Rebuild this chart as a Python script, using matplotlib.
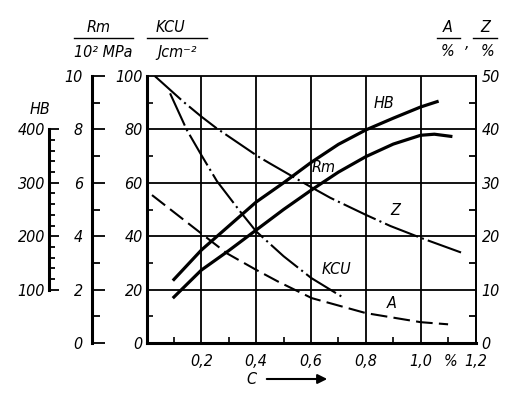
import matplotlib
matplotlib.use("Agg")
import matplotlib.pyplot as plt
from matplotlib.lines import Line2D
from matplotlib.ticker import FixedLocator
from matplotlib import font_manager

plt.rcParams['font.family'] = ['Liberation Sans Narrow', 'DejaVu Sans']
plt.rcParams['font.style'] = 'italic'
plt.rcParams['font.stretch'] = 'condensed'
plt.rcParams['font.size'] = 11.5
print(sorted({f.name + ' ' + str(f.stretch) for f in font_manager.fontManager.ttflist
              if 'DejaVu' in f.name or 'Liberation' in f.name}))

# carbon content C, %
c_hb = [0.1, 0.2, 0.3, 0.4, 0.5, 0.6, 0.7, 0.8, 0.9, 1.0, 1.06]
hb = [119, 174, 219, 264, 300, 338, 372, 399, 421, 442, 452]

c_rm = [0.1, 0.2, 0.3, 0.4, 0.5, 0.6, 0.7, 0.8, 0.9, 1.0, 1.05, 1.11]
rm = [1.72, 2.73, 3.46, 4.23, 5.0, 5.72, 6.4, 6.98, 7.45, 7.78, 7.82, 7.74]

c_kcu = [0.086, 0.147, 0.2, 0.257, 0.342, 0.4, 0.5, 0.6, 0.713]
kcu = [93.5, 79.8, 70.4, 60.6, 49.2, 41.8, 32.5, 24.4, 17.3]

c_z = [0.03, 0.134, 0.2, 0.256, 0.408, 0.451, 0.6, 0.67, 0.8, 0.89, 1.0, 1.15]
z = [50, 45.2, 42.4, 40.2, 34.9, 33.6, 29.2, 27.2, 24.0, 21.9, 19.7, 16.9]

c_a = [0.02, 0.2, 0.293, 0.4, 0.48, 0.603, 0.8, 1.0, 1.1]
a = [27.7, 20.5, 16.8, 13.7, 11.5, 8.4, 5.6, 3.9, 3.5]

x_major = [0.2, 0.4, 0.6, 0.8, 1.0, 1.2]
x_labels = ['0,2', '0,4', '0,6', '0,8', '1,0', '1,2']

W, H = 522, 394
fig = plt.figure(figsize=(W / 100, H / 100), dpi=100)
x0, x1, y0, y1 = 146.5, 475.5, 76, 343
ax = fig.add_axes([x0 / W, 1 - y1 / H, (x1 - x0) / W, (y1 - y0) / H])


def fx(px):
    return px / W


def fy(py):
    return 1 - py / H


# main axes: KCU on the left spine
ax.set_xlim(0, 1.2)
ax.set_ylim(0, 100)
ax.xaxis.set_major_locator(FixedLocator(x_major))
ax.set_xticklabels(x_labels)
ax.xaxis.set_minor_locator(FixedLocator([0.1, 0.3, 0.5, 0.7, 0.9, 1.1]))
ax.yaxis.set_major_locator(FixedLocator([0, 20, 40, 60, 80, 100]))
ax.yaxis.set_minor_locator(FixedLocator([10, 30, 50, 70, 90]))
ax.tick_params(axis='x', which='major', length=0, pad=8)
ax.tick_params(axis='y', which='major', length=0, pad=2.7)
ax.tick_params(which='minor', direction='in', length=4.5, width=1.2)
for v in [0.2, 0.4, 0.6, 0.8, 1.0]:
    ax.axvline(v, color='black', lw=1.3, zorder=1)
for v in [20, 40, 60, 80]:
    ax.axhline(v, color='black', lw=1.3, zorder=1)
ax.spines['left'].set_linewidth(2.2)
ax.spines['bottom'].set_linewidth(2.2)
ax.spines['top'].set_linewidth(1.3)
ax.spines['right'].set_linewidth(1.3)

ax.plot(c_kcu, kcu, color='black', lw=1.5, ls=(0, (17, 2, 1, 2)), zorder=3)

# Rm axis
ax_rm = ax.twinx()
ax_rm.set_ylim(0, 10)
for s in ['right', 'top', 'bottom']:
    ax_rm.spines[s].set_visible(False)
ax_rm.spines['left'].set_visible(True)
ax_rm.spines['left'].set_position(('outward', 39.6))
ax_rm.spines['left'].set_linewidth(2.2)
ax_rm.yaxis.set_ticks_position('left')
ax_rm.yaxis.set_major_locator(FixedLocator([0, 2, 4, 6, 8, 10]))
ax_rm.yaxis.set_minor_locator(FixedLocator([1, 3, 5, 7, 9]))
ax_rm.tick_params(axis='y', which='major', direction='in', length=9, width=1.3, pad=6.3)
ax_rm.tick_params(axis='y', which='minor', direction='in', length=5.5, width=1.3)
ax_rm.plot(c_rm, rm, color='black', lw=2.3, zorder=3)

# HB axis
ax_hb = ax.twinx()
ax_hb.set_ylim(0, 500)
for s in ['right', 'top', 'bottom']:
    ax_hb.spines[s].set_visible(False)
ax_hb.spines['left'].set_visible(True)
ax_hb.spines['left'].set_position(('outward', 70.1))
ax_hb.spines['left'].set_linewidth(2.2)
ax_hb.spines['left'].set_bounds(100, 400)
ax_hb.yaxis.set_ticks_position('left')
ax_hb.yaxis.set_major_locator(FixedLocator([100, 200, 300, 400]))
ax_hb.yaxis.set_minor_locator(FixedLocator([v for v in range(120, 400, 20) if v % 100]))
ax_hb.tick_params(axis='y', which='major', direction='in', length=7.5, width=1.3, pad=2.9)
ax_hb.tick_params(axis='y', which='minor', direction='in', length=4, width=1.3)
ax_hb.plot(c_hb, hb, color='black', lw=2.3, zorder=3)

# A, Z axis on the right
ax_az = ax.twinx()
ax_az.set_ylim(0, 50)
for s in ['left', 'top', 'bottom']:
    ax_az.spines[s].set_visible(False)
ax_az.spines['right'].set_linewidth(1.3)
ax_az.yaxis.set_major_locator(FixedLocator([0, 10, 20, 30, 40, 50]))
ax_az.yaxis.set_minor_locator(FixedLocator([5, 15, 25, 35, 45]))
ax_az.tick_params(axis='y', which='major', length=0, pad=4.3)
ax_az.tick_params(axis='y', which='minor', direction='in', length=4.8, width=1.3)
ax_az.plot(c_z, z, color='black', lw=1.5, ls=(0, (17, 2, 1, 2)), zorder=3)
ax_az.plot(c_a, a, color='black', lw=1.5, ls=(0, (8, 3)), zorder=3)

# curve names
for label, px, py in [('HB', 384, 103), ('Rm', 324, 168), ('Z', 395, 210),
                      ('KCU', 336, 270), ('A', 392, 303)]:
    fig.text(fx(px), fy(py), label, ha='center', va='center')

# '%' between 1,0 and 1,2
ax.text(1.11, -0.068, '%', transform=ax.get_xaxis_transform(), ha='center', va='center')

# axis titles
fig.text(fx(40), fy(110), 'HB', ha='center', va='center')
fig.text(fx(98.5), fy(28), 'Rm', ha='center', va='center')
fig.text(fx(103.5), fy(52.5), '10² MPa', ha='center', va='center')
fig.text(fx(170), fy(28), 'KCU', ha='center', va='center')
fig.text(fx(177), fy(52.5), 'Jcm⁻²', ha='center', va='center')
fig.text(fx(448), fy(27), 'A', ha='center', va='center')
fig.text(fx(447), fy(52), '%', ha='center', va='center')
fig.text(fx(467), fy(43), ',', ha='center', va='center')
fig.text(fx(485), fy(27), 'Z', ha='center', va='center')
fig.text(fx(487), fy(52), '%', ha='center', va='center')
for xa, xb in [(74, 133), (147, 207), (437, 460), (473, 497)]:
    fig.add_artist(Line2D([fx(xa), fx(xb)], [fy(37.5), fy(37.5)], color='black', lw=1.0))

# C arrow
fig.text(fx(251), fy(380), 'C', ha='center', va='center')
ax.annotate('', xy=(fx(330), fy(379)), xytext=(fx(264), fy(379)),
            xycoords='figure fraction', textcoords='figure fraction',
            arrowprops=dict(arrowstyle='-|>', color='black', lw=1.5, mutation_scale=14))

fig.savefig('out.png', dpi=100)
